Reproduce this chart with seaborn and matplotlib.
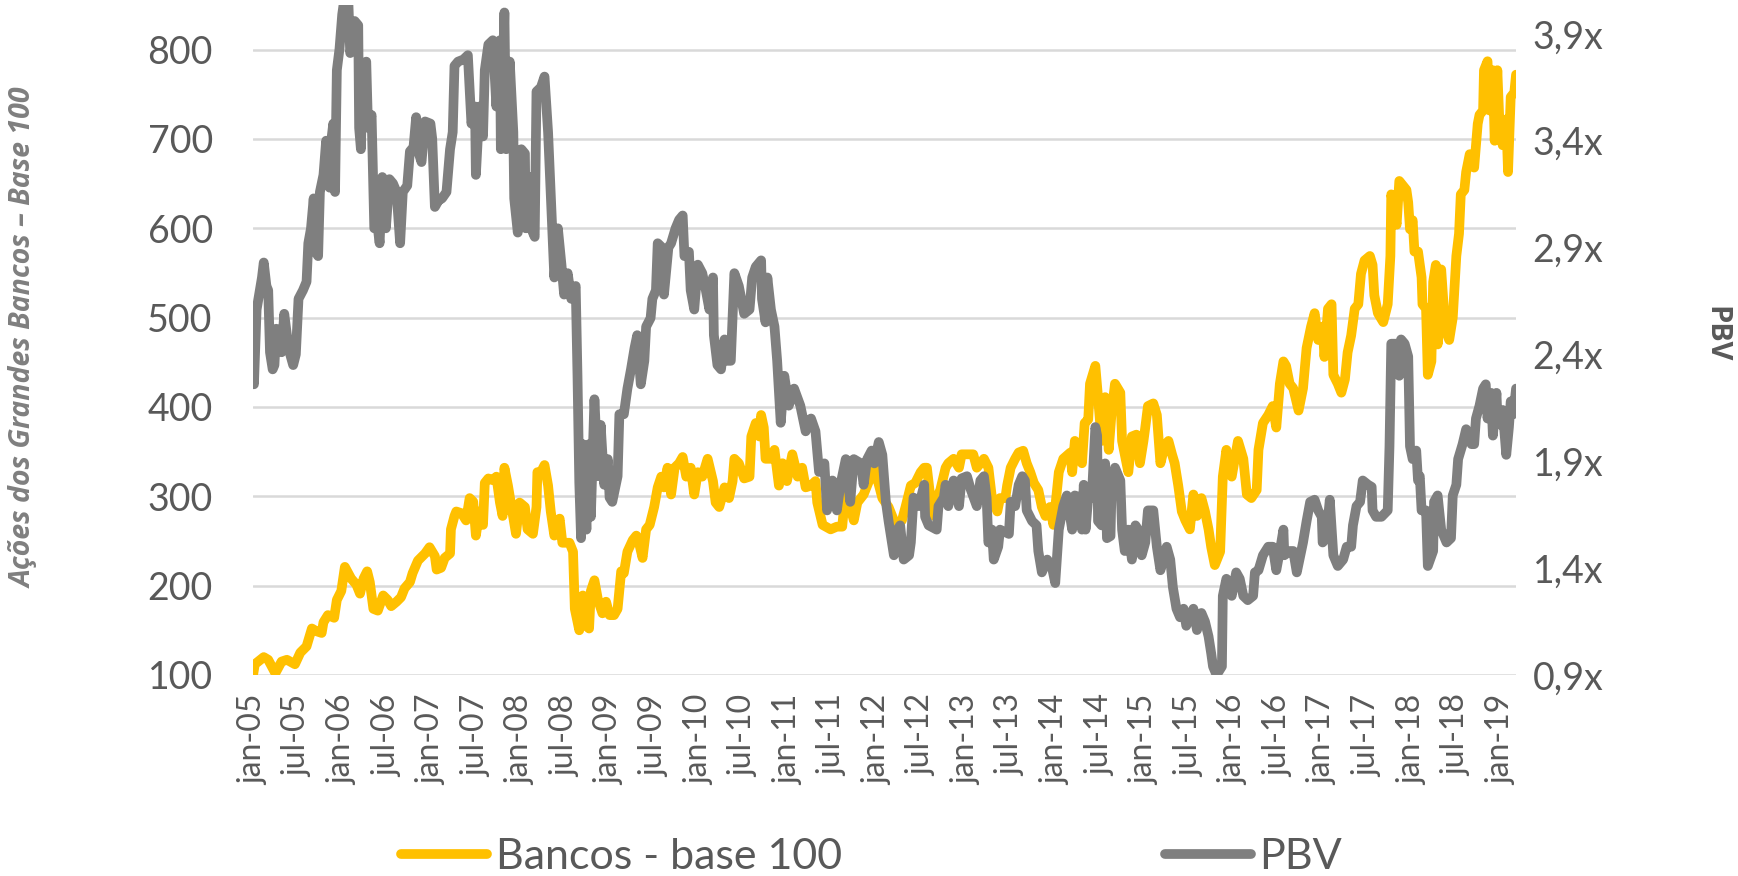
import matplotlib
matplotlib.use("Agg")
import matplotlib.pyplot as plt
import seaborn as sns

# Bancos - base 100 (eixo esquerdo), tempo em anos decimais
bancos_t = [2005.00, 2005.02, 2005.12, 2005.17, 2005.25, 2005.32, 2005.38, 2005.47, 2005.53, 2005.60,
            2005.66, 2005.71, 2005.77, 2005.79, 2005.84, 2005.91, 2005.94, 2005.99, 2006.03, 2006.10,
            2006.16, 2006.20, 2006.24, 2006.28, 2006.31, 2006.35, 2006.40, 2006.46, 2006.51, 2006.55,
            2006.61, 2006.66, 2006.70, 2006.76, 2006.79, 2006.85, 2006.93, 2006.98, 2007.04, 2007.06,
            2007.11, 2007.15, 2007.21, 2007.22, 2007.26,
            2007.28, 2007.34, 2007.39, 2007.43, 2007.47, 2007.50, 2007.54, 2007.58, 2007.60, 2007.64,
            2007.69, 2007.73, 2007.77, 2007.80, 2007.82, 2007.86, 2007.90, 2007.95, 2007.99, 2008.05,
            2008.08, 2008.14, 2008.18, 2008.19, 2008.23, 2008.27, 2008.31, 2008.34, 2008.38, 2008.44,
            2008.47, 2008.55, 2008.59, 2008.61, 2008.66, 2008.70, 2008.74, 2008.77, 2008.79, 2008.83,
            2008.87, 2008.92, 2008.96, 2009.00, 2009.05, 2009.09, 2009.13, 2009.16, 2009.20, 2009.26,
            2009.30, 2009.33, 2009.37, 2009.41, 2009.45, 2009.50, 2009.54, 2009.58,
            2009.61, 2009.65, 2009.69, 2009.73, 2009.78, 2009.82, 2009.86, 2009.91, 2009.95, 2009.99,
            2010.04, 2010.10, 2010.16, 2010.19, 2010.23, 2010.29, 2010.34, 2010.38, 2010.40, 2010.45,
            2010.51, 2010.57, 2010.59, 2010.64, 2010.68, 2010.70, 2010.73, 2010.75, 2010.81, 2010.85,
            2010.90, 2010.94, 2010.99, 2011.05, 2011.11, 2011.16, 2011.20, 2011.26, 2011.31, 2011.33,
            2011.39, 2011.48, 2011.55, 2011.61, 2011.65, 2011.70, 2011.74, 2011.78, 2011.85, 2011.91,
            2011.95,
            2011.98, 2012.01, 2012.06, 2012.13, 2012.21, 2012.28, 2012.32, 2012.38, 2012.43, 2012.49,
            2012.53, 2012.56, 2012.60, 2012.64, 2012.67, 2012.71, 2012.77, 2012.80, 2012.86, 2012.92,
            2012.95, 2013.01, 2013.08, 2013.12, 2013.16, 2013.20, 2013.25, 2013.29, 2013.35, 2013.38,
            2013.44, 2013.46, 2013.50, 2013.55, 2013.59, 2013.64, 2013.68, 2013.72, 2013.76, 2013.81,
            2013.85, 2013.89, 2013.94, 2013.98, 2014.04, 2014.09, 2014.17, 2014.19, 2014.22, 2014.26,
            2014.30,
            2014.33, 2014.37, 2014.39, 2014.45, 2014.48, 2014.52, 2014.56, 2014.60, 2014.63, 2014.67,
            2014.73, 2014.75, 2014.78, 2014.82, 2014.86, 2014.91, 2014.95, 2014.99, 2015.01, 2015.04,
            2015.10, 2015.14, 2015.18, 2015.23, 2015.27, 2015.31, 2015.34, 2015.38, 2015.42, 2015.46,
            2015.51, 2015.55, 2015.59, 2015.64, 2015.68, 2015.72, 2015.75, 2015.79, 2015.85, 2015.88,
            2015.92, 2015.98, 2016.05, 2016.11, 2016.15, 2016.20, 2016.26, 2016.28, 2016.33, 2016.39,
            2016.44, 2016.48, 2016.52, 2016.56, 2016.59, 2016.63,
            2016.67, 2016.73, 2016.78, 2016.82, 2016.87, 2016.91, 2016.95, 2017.00, 2017.02, 2017.06,
            2017.10, 2017.12, 2017.17, 2017.21, 2017.25, 2017.28, 2017.32, 2017.36, 2017.40, 2017.43,
            2017.47, 2017.53, 2017.56, 2017.58, 2017.62, 2017.68, 2017.73, 2017.76, 2017.77, 2017.83,
            2017.86, 2017.90, 2017.94, 2017.96, 2017.98, 2018.01, 2018.03, 2018.07, 2018.11, 2018.12,
            2018.16, 2018.18, 2018.22, 2018.24, 2018.27, 2018.29, 2018.33, 2018.37, 2018.40, 2018.42,
            2018.46, 2018.50, 2018.53, 2018.55, 2018.59, 2018.61, 2018.65, 2018.70, 2018.74, 2018.76,
            2018.80, 2018.81, 2018.85, 2018.87, 2018.91, 2018.93, 2018.96, 2018.98, 2019.02, 2019.06,
            2019.08, 2019.11, 2019.15, 2019.17]
bancos_v = [100, 112, 120, 117, 102, 115, 117, 112, 125, 132,
            152, 149, 147, 159, 167, 164, 184, 194, 221, 208,
            201, 191, 208, 216, 204, 174, 172, 189, 184, 177,
            182, 187, 197, 204, 214, 228, 236, 243, 233, 218,
            220, 231, 236, 263, 278,
            283, 281, 273, 298, 294, 256, 283, 268, 315, 320,
            318, 322, 293, 278, 332, 312, 288, 258, 293, 288,
            263, 258, 288, 327, 327, 335, 312, 283, 256, 275,
            248, 248, 238, 174, 150, 189, 155, 152, 194, 206,
            184, 169, 182, 167, 167, 174, 216, 214, 238, 251,
            256, 248, 231, 263, 268, 288, 310, 322,
            310, 332, 302, 332, 337, 344, 322, 332, 302, 327,
            322, 342, 317, 293, 288, 310, 298, 317, 342, 337,
            320, 322, 367, 382, 367, 391, 377, 342, 342, 352,
            312, 337, 317, 347, 322, 332, 310, 312, 317, 293,
            268, 263, 266, 266, 310, 288, 273, 293, 302, 317,
            322,
            337, 317, 298, 288, 268, 273, 288, 312, 315, 327,
            332, 332, 298, 278, 298, 307, 332, 337, 342, 332,
            347, 347, 347, 332, 337, 342, 332, 298, 283, 298,
            298, 312, 332, 342, 349, 351, 337, 327, 315, 307,
            288, 278, 288, 268, 327, 342, 349, 327, 362, 357,
            337,
            382, 386, 426, 446, 411, 362, 411, 352, 391, 426,
            416, 362, 347, 327, 367, 369, 337, 362, 377, 401,
            404, 391, 337, 357, 362, 347, 337, 312, 283, 273,
            263, 302, 278, 298, 283, 263, 243, 223, 238, 322,
            352, 322, 362, 342, 302, 298, 307, 352, 382, 391,
            401, 377, 426, 451, 446, 426,
            421, 396, 421, 466, 490, 505, 475, 490, 456, 510,
            515, 436, 426, 416, 431, 461, 480, 510, 515, 549,
            564, 569, 559, 525, 505, 495, 515, 569, 638, 604,
            653, 648, 643, 629, 599, 609, 574, 574, 545, 515,
            510, 436, 451, 540, 559, 470, 554, 495, 480, 475,
            500, 569, 594, 638, 643, 663, 683, 668, 717, 727,
            732, 777, 787, 732, 777, 698, 777, 727, 693, 722,
            663, 747, 752, 772]

# PBV (eixo direito)
pbv_t = [2005.00, 2005.01, 2005.04, 2005.10, 2005.12, 2005.15, 2005.17, 2005.19, 2005.22, 2005.24,
         2005.26, 2005.29, 2005.32, 2005.35, 2005.38, 2005.41, 2005.45, 2005.48, 2005.51, 2005.56,
         2005.60, 2005.62, 2005.65, 2005.68, 2005.70, 2005.73, 2005.75, 2005.79, 2005.82, 2005.86,
         2005.88, 2005.90, 2005.92, 2005.94, 2005.97, 2006.00, 2006.03, 2006.07, 2006.09, 2006.12,
         2006.14, 2006.18, 2006.19, 2006.21, 2006.23, 2006.27, 2006.29, 2006.33, 2006.36, 2006.40,
         2006.42, 2006.45, 2006.49, 2006.53, 2006.57, 2006.61, 2006.65, 2006.68, 2006.73, 2006.76,
         2006.80, 2006.83, 2006.86, 2006.89, 2006.93, 2006.99, 2007.01, 2007.04, 2007.08, 2007.12,
         2007.17, 2007.21, 2007.24, 2007.26,
         2007.30, 2007.36, 2007.41, 2007.45, 2007.49, 2007.50, 2007.54, 2007.58, 2007.60, 2007.64,
         2007.69, 2007.73, 2007.77, 2007.78, 2007.82, 2007.84, 2007.88, 2007.92, 2007.93, 2007.97,
         2008.01, 2008.05, 2008.06, 2008.10, 2008.12, 2008.16, 2008.18, 2008.23, 2008.27, 2008.31,
         2008.34, 2008.38, 2008.42, 2008.46, 2008.49, 2008.53, 2008.57, 2008.62, 2008.64, 2008.66,
         2008.68, 2008.70, 2008.74, 2008.77, 2008.79, 2008.83, 2008.87, 2008.90, 2008.94, 2008.98,
         2009.00, 2009.03, 2009.09, 2009.11, 2009.16, 2009.20, 2009.24, 2009.28, 2009.31, 2009.35,
         2009.39, 2009.41, 2009.46, 2009.48, 2009.52, 2009.54, 2009.59,
         2009.61, 2009.66, 2009.69, 2009.74, 2009.78, 2009.82, 2009.84, 2009.89, 2009.91, 2009.95,
         2009.99, 2010.04, 2010.08, 2010.12, 2010.16, 2010.17, 2010.21, 2010.25, 2010.29, 2010.32,
         2010.36, 2010.40, 2010.45, 2010.51, 2010.57, 2010.60, 2010.64, 2010.70, 2010.71, 2010.75,
         2010.77, 2010.81, 2010.85, 2010.88, 2010.92, 2010.96, 2011.01, 2011.07, 2011.14, 2011.20,
         2011.26, 2011.31, 2011.35, 2011.41, 2011.44, 2011.50, 2011.55, 2011.59, 2011.65, 2011.70,
         2011.74, 2011.82, 2011.85, 2011.89, 2011.94,
         2011.97, 2012.02, 2012.06, 2012.10, 2012.13, 2012.19, 2012.23, 2012.26, 2012.30, 2012.36,
         2012.38, 2012.41, 2012.47, 2012.53, 2012.54, 2012.58, 2012.67, 2012.69, 2012.75, 2012.77,
         2012.80, 2012.86, 2012.92, 2012.95, 2013.01, 2013.05, 2013.12, 2013.16, 2013.20, 2013.23,
         2013.25, 2013.29, 2013.31, 2013.36, 2013.38, 2013.48, 2013.50, 2013.55, 2013.59, 2013.63,
         2013.66, 2013.68, 2013.74, 2013.79, 2013.81, 2013.85, 2013.91, 2013.96, 2014.00, 2014.04,
         2014.09, 2014.13, 2014.19, 2014.22, 2014.28, 2014.30,
         2014.32, 2014.34, 2014.37, 2014.41, 2014.45, 2014.47, 2014.48, 2014.52, 2014.56, 2014.58,
         2014.62, 2014.63, 2014.67, 2014.73, 2014.75, 2014.78, 2014.82, 2014.86, 2014.90, 2014.93,
         2014.97, 2015.01, 2015.04, 2015.10, 2015.14, 2015.18, 2015.25, 2015.29, 2015.32, 2015.36,
         2015.40, 2015.44, 2015.47, 2015.51, 2015.55, 2015.59, 2015.64, 2015.68, 2015.72, 2015.75,
         2015.77, 2015.81, 2015.87, 2015.88, 2015.92, 2015.98, 2016.03, 2016.07, 2016.11, 2016.16,
         2016.22, 2016.24, 2016.28, 2016.33, 2016.39, 2016.44, 2016.48, 2016.52, 2016.56, 2016.57,
         2016.63,
         2016.67, 2016.71, 2016.75, 2016.78, 2016.82, 2016.86, 2016.91, 2016.95, 2016.99, 2017.00,
         2017.04, 2017.08, 2017.12, 2017.17, 2017.23, 2017.27, 2017.32, 2017.34, 2017.38, 2017.42,
         2017.45, 2017.51, 2017.55, 2017.56, 2017.60, 2017.66, 2017.73, 2017.75, 2017.77, 2017.83,
         2017.86, 2017.88, 2017.92, 2017.96, 2017.98, 2018.01, 2018.05, 2018.07, 2018.09, 2018.11,
         2018.16, 2018.18, 2018.24, 2018.25, 2018.29, 2018.33, 2018.39, 2018.44, 2018.46, 2018.50,
         2018.52, 2018.57, 2018.61, 2018.67, 2018.70, 2018.72, 2018.76, 2018.80, 2018.83, 2018.85,
         2018.89, 2018.91, 2018.95, 2018.96, 2019.00, 2019.02, 2019.06, 2019.09, 2019.11, 2019.14,
         2019.17]
pbv_v = [2.30, 2.26, 2.61, 2.76, 2.83, 2.72, 2.70, 2.41, 2.33, 2.35,
         2.52, 2.49, 2.41, 2.59, 2.49, 2.41, 2.35, 2.40, 2.66, 2.70,
         2.74, 2.92, 2.99, 3.13, 2.88, 2.86, 3.16, 3.24, 3.40, 3.18,
         3.41, 3.48, 3.16, 3.73, 3.83, 3.99, 4.08, 4.04, 3.81, 3.87,
         3.96, 3.94, 3.46, 3.36, 3.73, 3.77, 3.46, 3.52, 2.99, 2.99,
         2.92, 3.23, 2.99, 3.22, 3.20, 3.16, 2.92, 3.16, 3.19, 3.35,
         3.37, 3.51, 3.34, 3.30, 3.49, 3.48, 3.41, 3.09, 3.12, 3.13,
         3.16, 3.36, 3.44, 3.75,
         3.77, 3.78, 3.80, 3.48, 3.56, 3.24, 3.56, 3.42, 3.73, 3.85,
         3.87, 3.56, 3.87, 3.36, 4.00, 3.36, 3.77, 3.44, 3.13, 2.97,
         3.36, 3.34, 2.99, 3.23, 2.99, 2.95, 3.63, 3.65, 3.70, 3.44,
         3.15, 2.76, 2.99, 2.82, 2.68, 2.78, 2.66, 2.72, 2.30, 1.80,
         1.54, 1.98, 1.58, 1.98, 1.64, 2.19, 1.83, 2.07, 1.79, 1.91,
         1.73, 1.71, 1.83, 2.12, 2.12, 2.24, 2.33, 2.43, 2.49, 2.26,
         2.37, 2.53, 2.57, 2.66, 2.70, 2.92, 2.90,
         2.68, 2.90, 2.92, 2.99, 3.03, 3.05, 2.86, 2.88, 2.70, 2.61,
         2.82, 2.78, 2.70, 2.61, 2.76, 2.49, 2.35, 2.33, 2.47, 2.37,
         2.37, 2.78, 2.72, 2.59, 2.61, 2.76, 2.81, 2.84, 2.66, 2.55,
         2.76, 2.61, 2.53, 2.37, 2.08, 2.30, 2.16, 2.24, 2.16, 2.04,
         2.10, 2.04, 1.85, 1.89, 1.67, 1.81, 1.67, 1.79, 1.91, 1.71,
         1.91, 1.89, 1.79, 1.91, 1.95,
         1.89, 1.99, 1.93, 1.71, 1.62, 1.46, 1.58, 1.60, 1.44, 1.46,
         1.52, 1.73, 1.69, 1.79, 1.64, 1.60, 1.58, 1.69, 1.73, 1.79,
         1.69, 1.81, 1.69, 1.82, 1.83, 1.77, 1.69, 1.81, 1.83, 1.73,
         1.52, 1.58, 1.44, 1.50, 1.58, 1.56, 1.71, 1.69, 1.79, 1.83,
         1.81, 1.67, 1.62, 1.60, 1.48, 1.38, 1.44, 1.41, 1.33, 1.58,
         1.69, 1.74, 1.58, 1.74, 1.73, 1.58,
         1.79, 1.58, 1.73, 1.73, 2.06, 2.02, 1.62, 1.60, 1.89, 1.54,
         1.55, 1.74, 1.87, 1.81, 1.58, 1.48, 1.58, 1.44, 1.60, 1.58,
         1.46, 1.52, 1.67, 1.67, 1.50, 1.39, 1.50, 1.44, 1.31, 1.21,
         1.17, 1.21, 1.13, 1.17, 1.21, 1.11, 1.19, 1.15, 1.08, 1.00,
         0.94, 0.90, 0.94, 1.27, 1.35, 1.27, 1.38, 1.35, 1.27, 1.25,
         1.27, 1.38, 1.39, 1.46, 1.50, 1.50, 1.39, 1.48, 1.58, 1.46,
         1.48,
         1.48, 1.38, 1.46, 1.52, 1.62, 1.71, 1.72, 1.67, 1.64, 1.52,
         1.54, 1.72, 1.46, 1.41, 1.44, 1.50, 1.50, 1.60, 1.69, 1.71,
         1.81, 1.79, 1.78, 1.67, 1.64, 1.64, 1.67, 1.97, 2.45, 2.45,
         2.30, 2.47, 2.45, 2.39, 1.97, 1.91, 1.95, 1.81, 1.83, 1.67,
         1.67, 1.41, 1.48, 1.71, 1.74, 1.58, 1.52, 1.54, 1.74, 1.79,
         1.91, 1.98, 2.05, 1.98, 1.98, 2.10, 2.16, 2.24, 2.26, 2.10,
         2.22, 2.02, 2.22, 2.12, 2.07, 2.14, 1.93, 2.06, 2.18, 2.12,
         2.24]

x_ticks = [2005 + 0.5 * i for i in range(29)]
x_labels = ['jan-05', 'jul-05', 'jan-06', 'jul-06', 'jan-07', 'jul-07', 'jan-08', 'jul-08',
            'jan-09', 'jul-09', 'jan-10', 'jul-10', 'jan-11', 'jul-11', 'jan-12', 'jul-12',
            'jan-13', 'jul-13', 'jan-14', 'jul-14', 'jan-15', 'jul-15', 'jan-16', 'jul-16',
            'jan-17', 'jul-17', 'jan-18', 'jul-18', 'jan-19']
left_ticks = [100, 200, 300, 400, 500, 600, 700, 800]
right_ticks = [0.9, 1.4, 1.9, 2.4, 2.9, 3.4, 3.9]
right_labels = ['0,9x', '1,4x', '1,9x', '2,4x', '2,9x', '3,4x', '3,9x']

YELLOW = '#FFC000'
GRAY = '#7F7F7F'
TXT = '#595959'

sns.set_style("white")
plt.rcParams['font.family'] = ['Lato', 'DejaVu Sans']

fig = plt.figure(figsize=(17.38, 8.76), dpi=100)
ax = fig.add_axes([0.1456, 0.2295, 0.7267, 0.7648])

sns.lineplot(x=bancos_t, y=bancos_v, ax=ax, color=YELLOW, linewidth=7,
             estimator=None, sort=False, legend=False)
ax2 = ax.twinx()
sns.lineplot(x=pbv_t, y=pbv_v, ax=ax2, color=GRAY, linewidth=7,
             estimator=None, sort=False, legend=False)

for ln in [ax.lines[0], ax2.lines[0]]:
    ln.set_solid_capstyle('round')
    ln.set_solid_joinstyle('round')

ax.set_xlim(2005.0, 2019.17)
ax.set_ylim(100, 850)
ax2.set_ylim(0.9, 4.035)

ax.set_yticks(left_ticks)
ax.set_yticklabels([str(v) for v in left_ticks])
ax2.set_yticks(right_ticks)
ax2.set_yticklabels(right_labels)
ax.set_xticks(x_ticks)
ax.set_xticklabels(x_labels, rotation=90)

ax.yaxis.grid(True, color='#D9D9D9', linewidth=1.8)
ax.xaxis.grid(False)
ax2.grid(False)
ax.set_axisbelow(True)

for a in (ax, ax2):
    for s in a.spines.values():
        s.set_visible(False)
    a.set_xlabel('')
    a.set_ylabel('')

ax.tick_params(axis='y', length=0, pad=29, labelsize=27, labelcolor=TXT)
ax.tick_params(axis='x', length=0, pad=14, labelsize=23, labelcolor=TXT)
ax2.tick_params(axis='y', length=0, pad=12, labelsize=27, labelcolor=TXT)

fig.text(0.0138, 0.614, 'Ações dos Grandes Bancos – Base 100', rotation=90,
         ha='center', va='center', fontsize=20.5, fontweight='bold', fontstyle='italic',
         color=GRAY, family=['Open Sans', 'DejaVu Sans'])
fig.text(0.987, 0.618, 'PBV', rotation=270, ha='center', va='center',
         fontsize=21, fontweight='bold', color=TXT, family=['Open Sans', 'DejaVu Sans'])

leg = fig.legend([ax.lines[0], ax2.lines[0]], ['Bancos - base 100', 'PBV'],
                 loc='center left', bbox_to_anchor=(0.2307, 0.0217), ncol=2, frameon=False,
                 fontsize=31, handlelength=2.0, handletextpad=0.2, columnspacing=7.5,
                 borderpad=0, borderaxespad=0)
for t in leg.get_texts():
    t.set_color(TXT)

fig.savefig('out.png', dpi=100)
